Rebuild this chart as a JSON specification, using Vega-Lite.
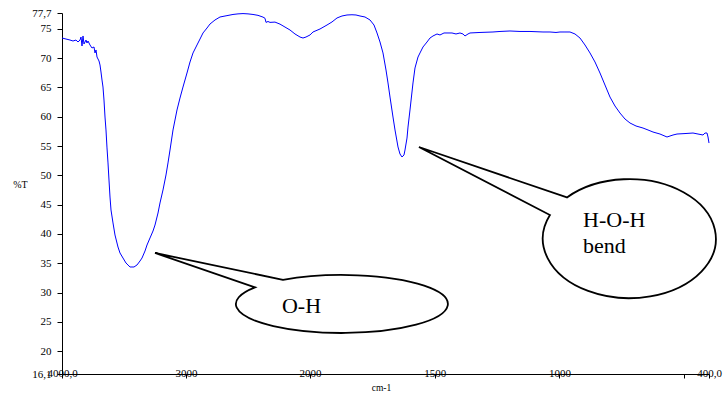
{
  "$schema": "https://vega.github.io/schema/vega-lite/v6.json",
  "autosize": "none",
  "width": 647,
  "height": 361,
  "padding": {"left": 62, "top": 13, "right": 15, "bottom": 23},
  "background": "white",
  "config": {"view": {"stroke": null}},
  "datasets": {
    "spec": [
      {"w": 4000, "t": 73.43}, {"w": 3967.7, "t": 73.26}, {"w": 3935.5, "t": 73.09}, {"w": 3911.3, "t": 72.92},
      {"w": 3887.1, "t": 73.09}, {"w": 3871.0, "t": 72.75}, {"w": 3854.8, "t": 73.09}, {"w": 3846.8, "t": 73.6},
      {"w": 3838.7, "t": 72.07}, {"w": 3830.6, "t": 73.78}, {"w": 3822.6, "t": 72.41}, {"w": 3806.5, "t": 73.09},
      {"w": 3798.4, "t": 72.58}, {"w": 3790.3, "t": 72.92}, {"w": 3774.2, "t": 72.24}, {"w": 3758.1, "t": 71.73},
      {"w": 3741.9, "t": 71.9}, {"w": 3733.9, "t": 70.88}, {"w": 3725.8, "t": 71.39}, {"w": 3717.7, "t": 70.19},
      {"w": 3701.6, "t": 69.51}, {"w": 3693.5, "t": 68.83}, {"w": 3685.5, "t": 67.63}, {"w": 3677.4, "t": 66.26},
      {"w": 3669.4, "t": 65.07}, {"w": 3661.3, "t": 62.85}, {"w": 3653.2, "t": 59.95}, {"w": 3645.2, "t": 57.74},
      {"w": 3637.1, "t": 54.67}, {"w": 3629.0, "t": 52.11}, {"w": 3621.0, "t": 49.2}, {"w": 3612.9, "t": 46.3},
      {"w": 3604.8, "t": 44.08}, {"w": 3588.7, "t": 41.87}, {"w": 3572.6, "t": 39.82}, {"w": 3548.4, "t": 37.77},
      {"w": 3532.3, "t": 36.75}, {"w": 3508.1, "t": 35.89}, {"w": 3483.9, "t": 35.04}, {"w": 3467.7, "t": 34.7},
      {"w": 3451.6, "t": 34.36}, {"w": 3435.5, "t": 34.36}, {"w": 3419.4, "t": 34.36}, {"w": 3395.2, "t": 34.7},
      {"w": 3371.0, "t": 35.38}, {"w": 3354.8, "t": 35.89}, {"w": 3330.6, "t": 37.09}, {"w": 3314.5, "t": 38.11},
      {"w": 3290.3, "t": 39.31}, {"w": 3266.1, "t": 40.5}, {"w": 3250.0, "t": 41.52}, {"w": 3225.8, "t": 43.57},
      {"w": 3209.7, "t": 45.28}, {"w": 3185.5, "t": 47.5}, {"w": 3161.3, "t": 50.06}, {"w": 3145.2, "t": 52.11},
      {"w": 3129.0, "t": 54.32}, {"w": 3104.8, "t": 57.74}, {"w": 3072.6, "t": 61.15}, {"w": 3048.4, "t": 63.19},
      {"w": 3024.2, "t": 65.07}, {"w": 2992.0, "t": 67.46}, {"w": 2967.7, "t": 69.34}, {"w": 2943.5, "t": 70.88},
      {"w": 2911.3, "t": 72.24}, {"w": 2887.1, "t": 73.26}, {"w": 2862.9, "t": 74.29}, {"w": 2830.6, "t": 75.14},
      {"w": 2806.5, "t": 75.82}, {"w": 2766.1, "t": 76.51}, {"w": 2725.8, "t": 77.02}, {"w": 2669.4, "t": 77.25},
      {"w": 2621.0, "t": 77.45}, {"w": 2580.6, "t": 77.55}, {"w": 2540.3, "t": 77.6}, {"w": 2500.0, "t": 77.55},
      {"w": 2459.7, "t": 77.45}, {"w": 2419.4, "t": 77.3}, {"w": 2379.0, "t": 77.0}, {"w": 2362.9, "t": 76.8},
      {"w": 2354.8, "t": 76.1}, {"w": 2338.7, "t": 76.25}, {"w": 2322.6, "t": 76.1}, {"w": 2282.3, "t": 76.15},
      {"w": 2241.9, "t": 75.8}, {"w": 2201.6, "t": 75.3}, {"w": 2161.3, "t": 74.8}, {"w": 2121.0, "t": 74.12},
      {"w": 2080.6, "t": 73.6}, {"w": 2056.5, "t": 73.43}, {"w": 2032.3, "t": 73.6}, {"w": 2000, "t": 73.95},
      {"w": 1988.0, "t": 74.46}, {"w": 1959.9, "t": 74.97}, {"w": 1931.8, "t": 75.65}, {"w": 1911.8, "t": 76.17},
      {"w": 1891.7, "t": 76.85}, {"w": 1871.7, "t": 77.19}, {"w": 1851.6, "t": 77.36}, {"w": 1831.6, "t": 77.4},
      {"w": 1815.5, "t": 77.36}, {"w": 1799.5, "t": 77.19}, {"w": 1779.5, "t": 77.02}, {"w": 1759.4, "t": 76.51},
      {"w": 1743.4, "t": 75.65}, {"w": 1731.3, "t": 74.29}, {"w": 1719.3, "t": 72.75}, {"w": 1707.3, "t": 70.88},
      {"w": 1695.2, "t": 67.97}, {"w": 1687.2, "t": 65.76}, {"w": 1679.2, "t": 63.36}, {"w": 1667.2, "t": 59.95},
      {"w": 1659.1, "t": 57.74}, {"w": 1647.1, "t": 54.84}, {"w": 1639.1, "t": 53.64}, {"w": 1631.1, "t": 53.13},
      {"w": 1623.1, "t": 53.47}, {"w": 1619.1, "t": 54.32}, {"w": 1611.0, "t": 56.36}, {"w": 1607.0, "t": 58.24},
      {"w": 1599.0, "t": 61.15}, {"w": 1587.0, "t": 65.76}, {"w": 1579.0, "t": 68.32}, {"w": 1566.9, "t": 70.19},
      {"w": 1558.9, "t": 70.88}, {"w": 1546.9, "t": 71.9}, {"w": 1530.8, "t": 72.75}, {"w": 1518.8, "t": 73.43},
      {"w": 1506.8, "t": 73.78}, {"w": 1490.7, "t": 74.12}, {"w": 1478.7, "t": 73.95}, {"w": 1462.7, "t": 74.29},
      {"w": 1450.6, "t": 74.29}, {"w": 1430.6, "t": 74.29}, {"w": 1414.5, "t": 74.12}, {"w": 1398.5, "t": 74.29},
      {"w": 1386.5, "t": 74.12}, {"w": 1378.5, "t": 73.78}, {"w": 1366.4, "t": 74.12}, {"w": 1358.4, "t": 74.29},
      {"w": 1318.3, "t": 74.38}, {"w": 1266.2, "t": 74.46}, {"w": 1238.1, "t": 74.55}, {"w": 1198.0, "t": 74.63},
      {"w": 1157.9, "t": 74.55}, {"w": 1117.8, "t": 74.55}, {"w": 1065.7, "t": 74.46}, {"w": 1037.6, "t": 74.46},
      {"w": 1013.5, "t": 74.38}, {"w": 997.5, "t": 74.46}, {"w": 977.5, "t": 74.46}, {"w": 957.4, "t": 74.46},
      {"w": 937.4, "t": 74.12}, {"w": 917.3, "t": 73.43}, {"w": 897.3, "t": 72.24}, {"w": 877.2, "t": 70.88},
      {"w": 857.2, "t": 69.34}, {"w": 837.1, "t": 67.46}, {"w": 817.1, "t": 65.41}, {"w": 797.0, "t": 63.36},
      {"w": 777.0, "t": 61.83}, {"w": 756.9, "t": 60.63}, {"w": 736.9, "t": 59.61}, {"w": 716.8, "t": 58.93},
      {"w": 692.7, "t": 58.42}, {"w": 664.6, "t": 58.07}, {"w": 644.6, "t": 57.74}, {"w": 624.5, "t": 57.39},
      {"w": 596.5, "t": 57.05}, {"w": 568.4, "t": 56.54}, {"w": 556.4, "t": 56.71}, {"w": 544.3, "t": 56.88},
      {"w": 528.3, "t": 57.05}, {"w": 496.2, "t": 57.13}, {"w": 464.1, "t": 57.22}, {"w": 444.1, "t": 57.05},
      {"w": 424.0, "t": 56.88}, {"w": 416.0, "t": 57.22}, {"w": 408.0, "t": 57.22}, {"w": 404.0, "t": 56.54},
      {"w": 400, "t": 55.51}
    ],
    "bubbles": [
      {"name": "OH", "w": 1871.7, "t": 28.05},
      {"name": "HOH", "w": 719, "t": 39.22}
    ],
    "labels": [
      {"label": "O-H", "w": 2226, "t": 26.51},
      {"label": "H-O-H", "w": 905, "t": 41.18},
      {"label": "bend", "w": 905, "t": 36.75}
    ]
  },
  "encoding": {
    "x": {
      "field": "w",
      "type": "quantitative",
      "scale": {"type": "linear", "domain": [4000, 2000, 400], "range": [0, 248, 647], "nice": false, "zero": false},
      "axis": {
        "values": [4000, 3000, 2000, 1500, 1000, 500, 400],
        "format": "d",
        "labelExpr": "datum.value == 4000 ? '4000,0' : datum.value == 400 ? '400,0' : datum.value == 500 ? '' : datum.label",
        "grid": false,
        "tickSize": 4,
        "labelPadding": -11,
        "labelFont": "Liberation Serif",
        "labelFontSize": 11,
        "labelColor": "black",
        "labelOverlap": false,
        "labelFlush": false,
        "domainColor": "black",
        "tickColor": "black",
        "title": "cm-1",
        "titleFont": "Liberation Serif",
        "titleFontSize": 9.5,
        "titleFontWeight": "normal",
        "titleColor": "black",
        "titleX": 319,
        "titleY": 13,
        "titleBaseline": "middle"
      }
    },
    "y": {
      "field": "t",
      "type": "quantitative",
      "scale": {"domain": [16.1, 77.7], "nice": false, "zero": false},
      "axis": {
        "values": [16.1, 20, 25, 30, 35, 40, 45, 50, 55, 60, 65, 70, 75, 77.7],
        "labelExpr": "replace('' + datum.value, '.', ',')",
        "grid": false,
        "tickSize": 5,
        "labelPadding": 6,
        "labelFont": "Liberation Serif",
        "labelFontSize": 11,
        "labelColor": "black",
        "labelOverlap": false,
        "labelFlush": false,
        "domainColor": "black",
        "tickColor": "black",
        "title": "%T",
        "titleAngle": 0,
        "titleFont": "Liberation Serif",
        "titleFontSize": 10,
        "titleFontWeight": "normal",
        "titleColor": "black",
        "titleX": -42,
        "titleY": 171,
        "titleAlign": "center",
        "titleBaseline": "middle"
      }
    }
  },
  "layer": [
    {
      "data": {"name": "spec"},
      "mark": {"type": "line", "color": "#0000ff", "strokeWidth": 1}
    },
    {
      "data": {"name": "bubbles"},
      "transform": [{"filter": "datum.name == 'OH'"}],
      "mark": {
        "type": "point",
        "shape": "M -59 -24.1 L -187 -51 L -87 -16.6 A 106 29 0 1 0 -59 -24.1 Z",
        "size": 4,
        "filled": true,
        "fill": "white",
        "stroke": "black",
        "strokeWidth": 1.8,
        "opacity": 1,
        "fillOpacity": 1,
        "strokeOpacity": 1
      }
    },
    {
      "data": {"name": "bubbles"},
      "transform": [{"filter": "datum.name == 'HOH'"}],
      "mark": {
        "type": "point",
        "shape": "M -62.5 -41.1 L -210.5 -91.5 L -79.5 -23.5 A 86.5 59.5 0 1 0 -62.5 -41.1 Z",
        "size": 4,
        "filled": true,
        "fill": "white",
        "stroke": "black",
        "strokeWidth": 1.8,
        "opacity": 1,
        "fillOpacity": 1,
        "strokeOpacity": 1
      }
    },
    {
      "data": {"name": "labels"},
      "mark": {"type": "text", "align": "left", "baseline": "alphabetic", "font": "Liberation Serif", "fontSize": 22, "color": "black"},
      "encoding": {"text": {"field": "label", "type": "nominal"}}
    }
  ]
}
